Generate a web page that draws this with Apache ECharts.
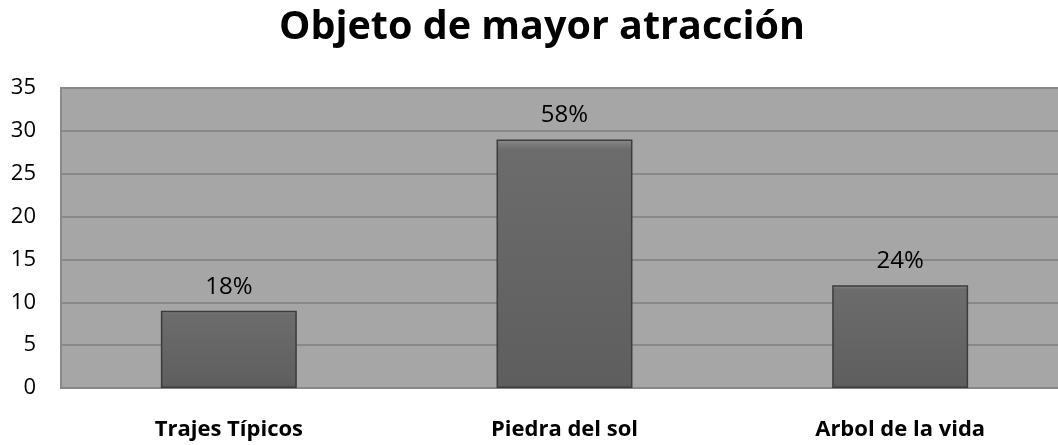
<!DOCTYPE html>
<html>
<head>
<meta charset="utf-8">
<script src="https://cdn.jsdelivr.net/npm/echarts@6/dist/echarts.min.js"></script>
<style>
  html, body { margin: 0; padding: 0; background: #fff; }
  #chart { width: 1058px; height: 445px; }
</style>
</head>
<body>
<div id="chart"></div>
<script>
const categories = ['Trajes Típicos', 'Piedra del sol', 'Arbol de la vida'];
const counts = [9, 29, 12];
const percentLabels = ['18%', '58%', '24%'];

const chart = echarts.init(document.getElementById('chart'), null, { renderer: 'canvas' });

chart.setOption({
  animation: false,
  title: {
    text: 'Objeto de mayor atracción',
    left: 537,
    textAlign: 'center',
    top: 3,
    textStyle: {
      fontFamily: 'Open Sans',
      fontWeight: 'bold',
      fontSize: 39.5,
      color: '#000'
    }
  },
  grid: {
    show: true,
    left: 61,
    right: -10,
    top: 88,
    bottom: 57,
    outerBoundsMode: 'none',
    backgroundColor: '#a6a6a6',
    borderColor: '#8a8a8a',
    borderWidth: 2
  },
  xAxis: {
    type: 'category',
    data: categories,
    axisLine: { show: false },
    axisTick: { show: false },
    axisLabel: {
      margin: 31,
      fontFamily: 'Open Sans',
      fontWeight: 'bold',
      fontSize: 22,
      color: '#000'
    }
  },
  yAxis: {
    type: 'value',
    min: 0,
    max: 35,
    interval: 5,
    axisLine: { show: false },
    axisTick: { show: false },
    axisLabel: {
      margin: 25,
      fontFamily: 'Open Sans',
      fontSize: 22,
      color: '#000'
    },
    splitLine: { lineStyle: { color: '#888', width: 2 } }
  },
  series: [
    {
      type: 'bar',
      data: counts,
      barWidth: '40.5%',
      itemStyle: {
        color: new echarts.graphic.LinearGradient(0, 0, 0, 1, [
          { offset: 0, color: '#8a8a8a' },
          { offset: 0.04, color: '#6c6c6c' },
          { offset: 1, color: '#5e5e5e' }
        ]),
        borderColor: '#3c3c3c',
        borderWidth: 1.5
      },
      label: {
        show: true,
        position: 'top',
        distance: 12,
        fontFamily: 'Open Sans',
        fontSize: 24,
        color: '#000',
        formatter: (p) => percentLabels[p.dataIndex]
      }
    }
  ]
});
</script>
</body>
</html>
